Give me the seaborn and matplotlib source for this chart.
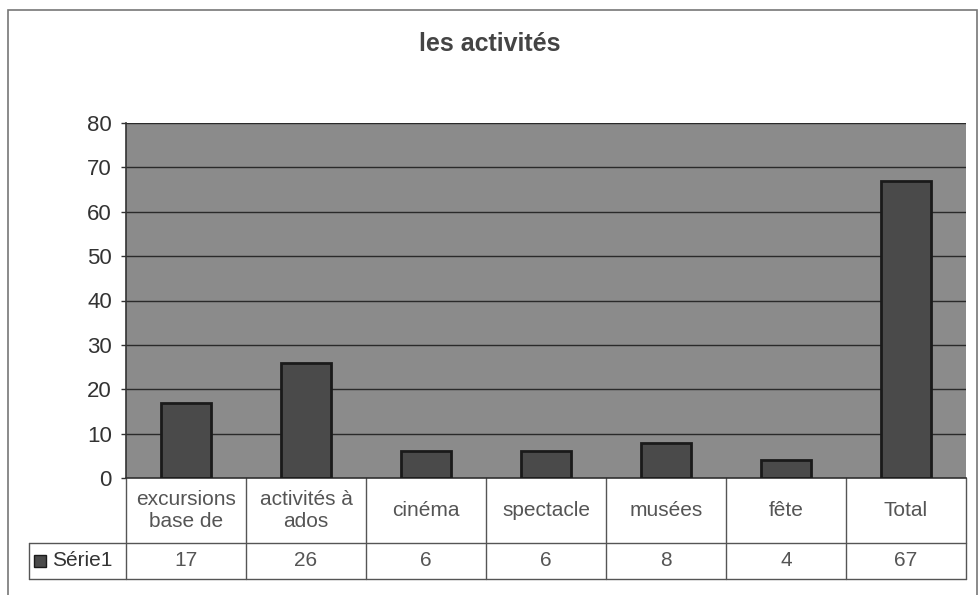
import matplotlib
matplotlib.use("Agg")
import matplotlib.pyplot as plt
import matplotlib.transforms as mtransforms
from matplotlib.patches import Rectangle
import seaborn as sns
import pandas as pd

categories = ["excursions\nbase de", "activités à\nados", "cinéma", "spectacle", "musées", "fête", "Total"]
values = [17, 26, 6, 6, 8, 4, 67]
series_name = "Série1"
title = "les activités"
yticks = [0, 10, 20, 30, 40, 50, 60, 70, 80]

sns.set_style("white")
plt.rcParams['font.family'] = ['Liberation Sans', 'DejaVu Sans']

df = pd.DataFrame({"cat": categories, "val": values})

fig = plt.figure(figsize=(9.79, 5.95), dpi=100)
fig.patch.set_facecolor("white")
W, H = 979, 595
ax = fig.add_axes([126 / W, 1 - 478 / H, 840 / W, 355 / H])
ax.set_facecolor("#8b8b8b")

sns.barplot(data=df, x="cat", y="val", ax=ax, color="#4a4a4a", width=0.42,
            edgecolor="#1a1a1a", linewidth=2, saturation=1, zorder=3)

ax.set_ylim(0, 80)
ax.set_xlim(-0.5, len(categories) - 0.5)
ax.set_yticks(yticks)
ax.yaxis.grid(True, color="#2a2a2a", linewidth=1.0, zorder=1)
ax.set_axisbelow(True)
ax.set_xlabel("")
ax.set_ylabel("")
ax.set_xticks([])
ax.tick_params(axis="y", direction="out", length=3.6, width=1, color="#333333",
               labelsize=16, labelcolor="#333333", pad=6.5, left=True)
for s in ["top", "right"]:
    ax.spines[s].set_visible(False)
ax.spines["left"].set_color("#333333")
ax.spines["bottom"].set_color("#333333")
ax.spines["left"].set_linewidth(1.2)
ax.spines["bottom"].set_linewidth(1.2)

# data table
trans = mtransforms.blended_transform_factory(ax.transData, ax.transAxes)
r1 = -65 / 355
r2 = -101 / 355
left_ax = (29 - 126) / 840
lc = "#555555"
n = len(categories)
for i in range(n + 1):
    x = i - 0.5
    ax.plot([x, x], [0, r2], transform=trans, color=lc, lw=1, clip_on=False)
ax.plot([left_ax, 1], [r1, r1], transform=ax.transAxes, color=lc, lw=1, clip_on=False)
ax.plot([left_ax, 1], [r2, r2], transform=ax.transAxes, color=lc, lw=1, clip_on=False)
ax.plot([left_ax, left_ax], [r1, r2], transform=ax.transAxes, color=lc, lw=1, clip_on=False)
for i, (c, v) in enumerate(zip(categories, values)):
    ax.text(i, r1 / 2, c, transform=trans, ha="center", va="center",
            fontsize=15, color="#555555", linespacing=1.2)
    ax.text(i, (r1 + r2) / 2, str(v), transform=trans, ha="center", va="center",
            fontsize=15, color="#555555")
# legend key + series name
ax.add_patch(Rectangle((left_ax + 5 / 840, (r1 + r2) / 2 - 6 / 355), 12 / 840, 12 / 355,
                       transform=ax.transAxes, facecolor="#4a4a4a", edgecolor="#1a1a1a",
                       lw=1, clip_on=False))
ax.text(left_ax + 23 / 840, (r1 + r2) / 2, series_name, transform=ax.transAxes,
        ha="left", va="center", fontsize=15, color="#333333")

fig.text(0.5, 1 - 44 / H, title, ha="center", va="center", fontsize=18,
         fontweight="bold", color="#444444")

# outer chart border
fig.add_artist(Rectangle((8 / W, -0.01), 969 / W, 1 - 10 / H + 0.01, transform=fig.transFigure,
                         fill=False, edgecolor="#777777", lw=1.2))

fig.savefig("out.png", dpi=100)
